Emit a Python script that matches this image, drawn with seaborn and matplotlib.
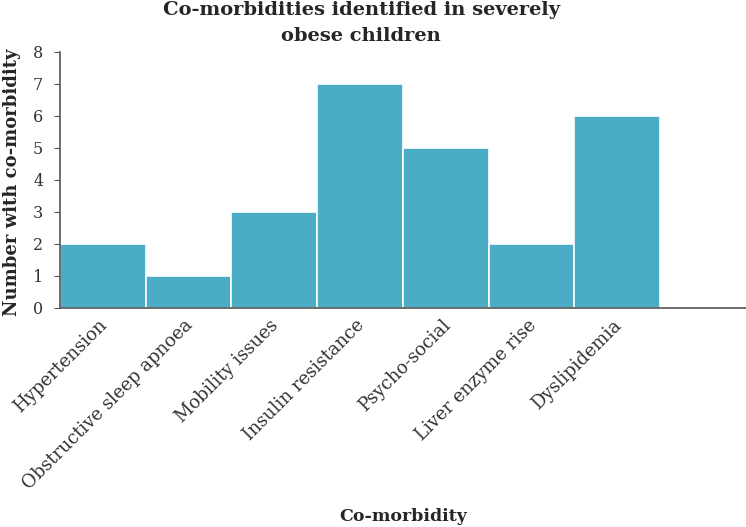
import matplotlib
matplotlib.use("Agg")
import matplotlib.pyplot as plt
import matplotlib.transforms as mtransforms
import seaborn as sns
import pandas as pd

# data
categories = ["Hypertension", "Obstructive sleep apnoea", "Mobility issues",
              "Insulin resistance", "Psycho-social", "Liver enzyme rise",
              "Dyslipidemia"]
counts = [2, 1, 3, 7, 5, 2, 6]
y_ticks = [0, 1, 2, 3, 4, 5, 6, 7, 8]

sns.set_style("ticks")
plt.rcParams['font.family'] = ['DejaVu Serif']

df = pd.DataFrame({"Co-morbidity": categories, "Count": counts})

fig = plt.figure(figsize=(7.46, 5.27), dpi=100)
ax = fig.add_axes([0.0804, 0.4156, 0.9196, 0.4858])

sns.barplot(data=df, x="Co-morbidity", y="Count", color="#4BACC6",
            saturation=1, width=1.0, edgecolor="white", linewidth=1.2, ax=ax)

ax.set_xlim(-0.5, 7.5)
ax.set_ylim(0, 8)
ax.set_yticks(y_ticks)
ax.tick_params(axis="y", labelsize=11.5, length=4, pad=8, color="#555555", labelcolor="#333333")
ax.tick_params(axis="x", length=0, labelsize=13, labelcolor="#333333", pad=6)
# labels end a little right of the bar centre, as in the original
shift = mtransforms.ScaledTranslation(8 / 100, 0, fig.dpi_scale_trans)
for lab in ax.get_xticklabels():
    lab.set_rotation(45)
    lab.set_ha("right")
    lab.set_transform(lab.get_transform() + shift)

for s in ["top", "right"]:
    ax.spines[s].set_visible(False)
for s in ["left", "bottom"]:
    ax.spines[s].set_color("#555555")
    ax.spines[s].set_linewidth(1.2)

ax.set_ylabel("")
ax.set_xlabel("")
fig.text(0.016, 0.655, "Number with co-morbidity", rotation=90, ha="center",
         va="center", fontsize=13, fontweight="bold")
fig.text(0.54, 0.019, "Co-morbidity", ha="center", va="center",
         fontsize=12.5, fontweight="bold")
fig.text(0.484, 0.981, "Co-morbidities identified in severely", ha="center",
         va="center", fontsize=14, fontweight="bold")
fig.text(0.484, 0.931, "obese children", ha="center",
         va="center", fontsize=14, fontweight="bold")

fig.savefig("out.png", dpi=100)
